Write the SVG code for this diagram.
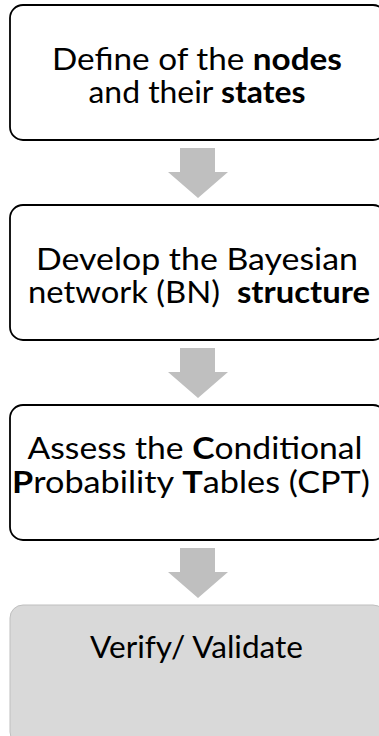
<svg xmlns="http://www.w3.org/2000/svg" width="379" height="736" viewBox="0 0 379 736">
  <defs>
    <style>
      .box { fill: #ffffff; stroke: #000000; stroke-width: 1.8; }
      .box-final { fill: #d9d9d9; stroke: #bfbfbf; stroke-width: 1; }
      .label { font-family: Lato, "Open Sans", "Liberation Sans", sans-serif; font-size: 30px; fill: #000000; text-anchor: middle; white-space: pre; }
      .b { font-weight: bold; }
      .flow { fill: #bfbfbf; }
    </style>
  </defs>

  <!-- step 1 -->
  <g id="node-define">
    <rect class="box" x="10" y="5" width="376" height="135" rx="13" ry="13"/>
    <text class="label" x="197" y="70" textLength="290" lengthAdjust="spacingAndGlyphs">Define of the <tspan class="b">nodes</tspan></text>
    <text class="label" x="197" y="103" textLength="217" lengthAdjust="spacingAndGlyphs">and their <tspan class="b">states</tspan></text>
  </g>

  <!-- step 2 -->
  <g id="node-structure">
    <rect class="box" x="10" y="205" width="376" height="135" rx="13" ry="13"/>
    <text class="label" x="197" y="270" textLength="322" lengthAdjust="spacingAndGlyphs">Develop the Bayesian</text>
    <text class="label" x="199" y="303" textLength="342" lengthAdjust="spacingAndGlyphs">network (BN)  <tspan class="b">structure</tspan></text>
  </g>

  <!-- step 3 -->
  <g id="node-cpt">
    <rect class="box" x="10" y="405" width="376" height="135" rx="13" ry="13"/>
    <text class="label" x="195" y="459" textLength="335" lengthAdjust="spacingAndGlyphs">Assess the <tspan class="b">C</tspan>onditional</text>
    <text class="label" x="191" y="493" textLength="358" lengthAdjust="spacingAndGlyphs"><tspan class="b">P</tspan>robability <tspan class="b">T</tspan>ables (CPT)</text>
  </g>

  <!-- step 4 -->
  <g id="node-verify">
    <rect class="box-final" x="10" y="605" width="376" height="140" rx="13" ry="13"/>
    <text class="label" x="196.5" y="658" textLength="213" lengthAdjust="spacingAndGlyphs">Verify/ Validate</text>
  </g>

  <!-- block arrows between steps -->
  <g id="connectors">
    <path id="arrow-1-2" class="flow" d="M180,148 H215 V172 H228 L198,198 L168,172 H180 Z"/>
    <path id="arrow-2-3" class="flow" d="M180,348 H215 V372 H228 L198,398 L168,372 H180 Z"/>
    <path id="arrow-3-4" class="flow" d="M180,548 H215 V572 H228 L198,598 L168,572 H180 Z"/>
  </g>
</svg>
